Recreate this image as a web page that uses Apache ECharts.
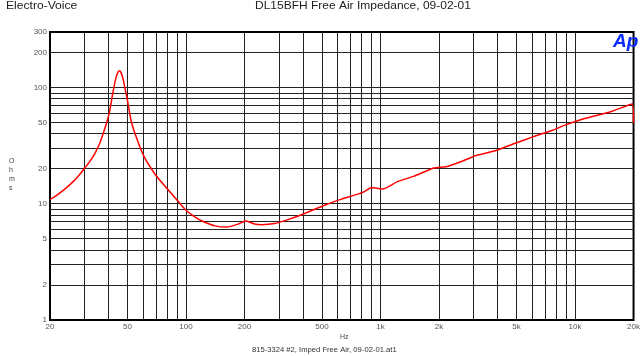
<!DOCTYPE html>
<html><head><meta charset="utf-8">
<script src="https://cdn.jsdelivr.net/npm/echarts@6/dist/echarts.min.js"></script>
<style>html,body{margin:0;padding:0;background:#fff}#c{width:643px;height:356px}</style>
</head><body><div id="c"></div>
<script>
const freqHz = [20, 21, 22.5, 24.5, 26.3, 28, 30, 32, 34, 36, 37.5, 39, 40.4, 42, 43.7, 44.8, 45.5, 46.3, 47.4, 48.7, 50, 52.2, 55.5, 61, 70, 80, 91.6, 100, 110, 121, 141, 163, 186, 203, 215, 225, 245, 285, 334, 408, 516, 624, 766, 827, 899, 960, 1026, 1223, 1478, 1881, 2200, 2667, 3073, 3963, 4806, 6075, 7680, 8900, 11200, 15100, 19700, 20000];
const impedanceOhms = [10.9, 11.4, 12.4, 13.9, 15.5, 17.3, 20, 23, 27, 33, 40, 49, 61, 88, 122, 136, 139, 135, 120, 97, 78, 52, 37.5, 25.3, 17.6, 13.5, 10.4, 8.8, 7.8, 7.1, 6.45, 6.3, 6.7, 7.1, 6.9, 6.7, 6.6, 6.75, 7.3, 8.25, 9.7, 10.9, 12.1, 12.7, 13.8, 13.6, 13.4, 15.5, 17.2, 20.3, 20.9, 23.4, 25.9, 28.8, 32.6, 37.6, 42.9, 47.4, 54, 61.6, 72, 49.5];
const xTickLabels = [20, 50, 100, 200, 500, 1000, 2000, 5000, 10000, 20000];
const xGridValues = [30, 40, 50, 60, 70, 80, 90, 100, 200, 300, 400, 500, 600, 700, 800, 900, 1000, 2000, 3000, 4000, 5000, 6000, 7000, 8000, 9000, 10000];
const yTickLabels = [1, 2, 5, 10, 20, 50, 100, 200, 300];
const yGridValues = [2, 3, 4, 5, 6, 7, 8, 9, 10, 20, 30, 40, 50, 60, 70, 80, 90, 100, 200];

const chart = echarts.init(document.getElementById('c'), null, {renderer: 'canvas'});
const FF = '"Liberation Sans", Arial, sans-serif';
const lineSeriesData = freqHz.map((f, i) => [f, impedanceOhms[i]]);
const gridLines = [];
xGridValues.forEach(v => gridLines.push({xAxis: v}));
yGridValues.forEach(v => gridLines.push({yAxis: v}));

chart.setOption({
  animation: false,
  grid: {left: 50, right: 5, top: 32, bottom: 36, show: true, borderColor: '#000', borderWidth: 2, backgroundColor: '#fff'},
  xAxis: {
    type: 'log', logBase: 10, min: 20, max: 20000,
    axisLine: {show: false},
    axisTick: {show: false},
    splitLine: {show: false},
    axisLabel: {
      customValues: xTickLabels,
      color: '#555', fontSize: 8, fontFamily: FF, margin: 3,
      formatter: v => v >= 1000 ? (v / 1000) + 'k' : String(v)
    }
  },
  yAxis: {
    type: 'log', logBase: 10, min: 1, max: 300,
    axisLine: {show: false},
    axisTick: {show: false},
    splitLine: {show: false},
    axisLabel: {
      customValues: yTickLabels,
      color: '#555', fontSize: 8, fontFamily: FF, margin: 3
    }
  },
  series: [{
    type: 'line',
    data: lineSeriesData,
    showSymbol: false,
    smooth: 0.2,
    lineStyle: {color: '#ff0000', width: 1.5},
    z: 5,
    markLine: {
      silent: true, symbol: 'none', animation: false,
      label: {show: false},
      lineStyle: {color: '#222', width: 1, type: 'solid'},
      data: gridLines,
      z: 1
    }
  }],
  graphic: [
    {type: 'text', x: 6, y: 0, scaleX: 1.1, style: {text: 'Electro-Voice', font: '11px ' + FF, fill: '#222'}},
    {type: 'text', x: 255, y: 0, scaleX: 1.09, style: {text: 'DL15BFH Free Air Impedance, 09-02-01', font: '11px ' + FF, fill: '#222'}},
    {type: 'text', left: 9, top: 157, style: {text: 'O\nh\nm\ns', font: '7px ' + FF, fill: '#444', lineHeight: 9, align: 'center'}},
    {type: 'text', left: 340, top: 334, style: {text: 'Hz', font: '7px ' + FF, fill: '#444'}},
    {type: 'text', x: 252, y: 347, scaleX: 1.09, style: {text: '815-3324 #2, Imped Free Air, 09-02-01.at1', font: '7px ' + FF, fill: '#333'}},
    {type: 'text', left: 613, top: 32, z: 10, style: {text: 'Ap', font: 'italic bold 19px ' + FF, fill: '#0a2cff'}}
  ]
});
</script></body></html>
